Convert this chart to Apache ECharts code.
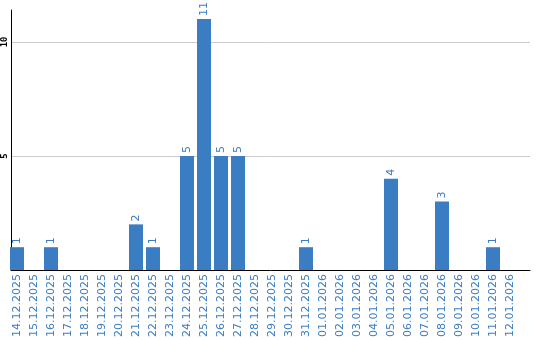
<!DOCTYPE html>
<html><head><meta charset="utf-8">
<script src="https://cdn.jsdelivr.net/npm/echarts@6/dist/echarts.min.js"></script>
<style>html,body{margin:0;padding:0;background:#fff}#c{width:540px;height:340px}</style>
</head><body><div id="c"></div>
<script>
const categories = ["14.12.2025","15.12.2025","16.12.2025","17.12.2025","18.12.2025","19.12.2025","20.12.2025","21.12.2025","22.12.2025","23.12.2025","24.12.2025","25.12.2025","26.12.2025","27.12.2025","28.12.2025","29.12.2025","30.12.2025","31.12.2025","01.01.2026","02.01.2026","03.01.2026","04.01.2026","05.01.2026","06.01.2026","07.01.2026","08.01.2026","09.01.2026","10.01.2026","11.01.2026","12.01.2026"];
const counts = [1,0,1,0,0,0,0,2,1,0,5,11,5,5,0,0,0,1,0,0,0,0,4,0,0,3,0,0,1,0];
const yTicks = [5,10];

const blue = '#3b7dc3';
const chart = echarts.init(document.getElementById('c'), null, {renderer:'canvas'});
chart.setOption({
  animation:false,
  grid:[
    {left:10, right:10, top:10, bottom:70},
    {left:8.5, width:510, top:10, bottom:70}
  ],
  xAxis:[
    {type:'value', gridIndex:0, min:0, max:1, axisLine:{show:true,onZero:false,lineStyle:{color:'#000',width:1}}, axisTick:{show:false}, axisLabel:{show:false}, splitLine:{show:false}},
    {type:'category', gridIndex:1, data:categories, axisLine:{show:false}, axisTick:{show:false},
     axisLabel:{interval:0, rotate:90, color:blue, fontSize:11, fontFamily:'DejaVu Sans', margin:4}}
  ],
  yAxis:[
    {type:'value', gridIndex:0, min:0, max:11.4, interval:5,
     axisLine:{show:true,lineStyle:{color:'#000',width:1}}, axisTick:{show:false},
     axisLabel:{rotate:90, fontSize:9, fontWeight:'bold', fontFamily:'DejaVu Sans Mono', color:'#000', margin:2, showMinLabel:false, showMaxLabel:false,
       formatter:function(v){return yTicks.indexOf(v)>=0?String(v):'';}},
     splitLine:{show:true, showMinLine:false, showMaxLine:false, lineStyle:{color:'#cccccc',width:1}}},
    {type:'value', gridIndex:1, min:0, max:11.4, show:false}
  ],
  series:[{
    type:'bar', xAxisIndex:1, yAxisIndex:1, barWidth:14,
    data:counts.map(v=>v===0?null:v),
    itemStyle:{color:blue},
    label:{show:true, position:'top', rotate:90, align:'left', verticalAlign:'middle', distance:3, color:blue, fontSize:11, fontFamily:'DejaVu Sans'}
  }]
});
</script></body></html>
